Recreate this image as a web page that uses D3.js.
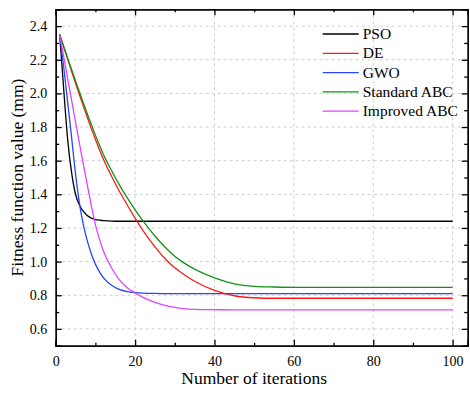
<!DOCTYPE html>
<html>
<head>
<meta charset="utf-8">
<script src="https://cdn.jsdelivr.net/npm/d3@7"></script>
<style>
  body { margin: 0; background: #fff; }
  svg { display: block; font-family: "Liberation Serif", "Times New Roman", serif; }
</style>
</head>
<body>
<svg id="chart" width="470" height="396"></svg>
<script>
const iterations = [1, 2, 3, 4, 5, 6, 7, 8, 9, 10, 11, 12, 14, 16, 18, 20, 22, 25, 28, 30, 32, 35, 40, 45, 50, 55, 60, 70, 80, 90, 100];

const pso = [2.35, 2.03, 1.73, 1.53, 1.40, 1.335, 1.298, 1.272, 1.258, 1.25, 1.246, 1.244, 1.241, 1.24, 1.24, 1.24, 1.24, 1.24, 1.24, 1.24, 1.24, 1.24, 1.24, 1.24, 1.24, 1.24, 1.24, 1.24, 1.24, 1.24, 1.24];
const de = [2.35, 2.277, 2.204, 2.132, 2.06, 1.99, 1.922, 1.855, 1.79, 1.727, 1.667, 1.61, 1.51, 1.42, 1.338, 1.258, 1.184, 1.088, 1.007, 0.963, 0.928, 0.883, 0.829, 0.797, 0.785, 0.782, 0.782, 0.782, 0.782, 0.782, 0.782];
const gwo = [2.35, 2.16, 1.95, 1.74, 1.52, 1.345, 1.215, 1.12, 1.045, 0.985, 0.94, 0.905, 0.861, 0.835, 0.822, 0.816, 0.813, 0.811, 0.81, 0.81, 0.81, 0.81, 0.81, 0.81, 0.81, 0.81, 0.81, 0.81, 0.81, 0.81, 0.81];
const stdAbc = [2.35, 2.28, 2.211, 2.142, 2.074, 2.007, 1.941, 1.876, 1.813, 1.752, 1.694, 1.638, 1.545, 1.458, 1.38, 1.308, 1.242, 1.152, 1.075, 1.032, 0.997, 0.955, 0.903, 0.868, 0.853, 0.849, 0.847, 0.847, 0.847, 0.847, 0.847];
const impAbc = [2.35, 2.22, 2.09, 1.96, 1.83, 1.70, 1.575, 1.45, 1.33, 1.22, 1.135, 1.065, 0.965, 0.893, 0.845, 0.813, 0.787, 0.758, 0.737, 0.728, 0.721, 0.716, 0.714, 0.713, 0.713, 0.713, 0.713, 0.713, 0.713, 0.713, 0.713];

const seriesNames = ["PSO", "DE", "GWO", "Standard ABC", "Improved ABC"];
const seriesColors = ["#000000", "#ff1a1a", "#2446ff", "#159115", "#de45ff"];
const seriesValues = [pso, de, gwo, stdAbc, impAbc];

const xTicks = [0, 20, 40, 60, 80, 100];
const yTicks = [0.6, 0.8, 1.0, 1.2, 1.4, 1.6, 1.8, 2.0, 2.2, 2.4];

const svg = d3.select("#chart");
const margin = { top: 9.3, right: 2.3, bottom: 50.3, left: 55.7 };
const width = 470 - margin.left - margin.right;
const height = 396 - margin.top - margin.bottom;
const serif = "'Liberation Serif', 'Times New Roman', serif";

const x = d3.scaleLinear().domain([0, 103.8]).range([0, width]);
const y = d3.scaleLinear().domain([0.5, 2.5]).range([height, 0]);

const g = svg.append("g").attr("transform", `translate(${margin.left},${margin.top})`);

// grid
g.append("g")
  .selectAll("line")
  .data(xTicks.slice(1))
  .join("line")
  .attr("x1", d => x(d)).attr("x2", d => x(d))
  .attr("y1", 0).attr("y2", height)
  .attr("stroke", "#cfcfcf").attr("stroke-width", 1)
  .attr("stroke-dasharray", "3,3");

g.append("g")
  .selectAll("line")
  .data(yTicks)
  .join("line")
  .attr("x1", 0).attr("x2", width)
  .attr("y1", d => y(d)).attr("y2", d => y(d))
  .attr("stroke", "#cfcfcf").attr("stroke-width", 1)
  .attr("stroke-dasharray", "3,3");

// curves
const line = d3.line()
  .x(d => x(d[0]))
  .y(d => y(d[1]))
  .curve(d3.curveMonotoneX);

seriesValues.forEach((vals, i) => {
  g.append("path")
    .datum(iterations.map((it, j) => [it, vals[j]]))
    .attr("fill", "none")
    .attr("stroke", seriesColors[i])
    .attr("stroke-width", 1.3)
    .attr("d", line);
});

// axes (ticks inside, on all four sides)
const xMinor = d3.range(10, 101, 20);
const yMinor = d3.range(0.7, 2.45, 0.2);

g.append("g").attr("transform", `translate(0,${height})`)
  .call(d3.axisBottom(x).tickValues(xTicks).tickSize(-6).tickPadding(10).tickFormat(d3.format("d")));
g.append("g")
  .call(d3.axisTop(x).tickValues(xTicks).tickSize(-6).tickFormat(""));
g.append("g")
  .call(d3.axisLeft(y).tickValues(yTicks).tickSize(-6).tickPadding(8.5).tickFormat(d3.format(".1f")));
g.append("g").attr("transform", `translate(${width},0)`)
  .call(d3.axisRight(y).tickValues(yTicks).tickSize(-6).tickFormat(""));

g.append("g").attr("transform", `translate(0,${height})`)
  .call(d3.axisBottom(x).tickValues(xMinor).tickSize(-3).tickFormat(""));
g.append("g")
  .call(d3.axisTop(x).tickValues(xMinor).tickSize(-3).tickFormat(""));
g.append("g")
  .call(d3.axisLeft(y).tickValues(yMinor).tickSize(-3.5).tickFormat(""));
g.append("g").attr("transform", `translate(${width},0)`)
  .call(d3.axisRight(y).tickValues(yMinor).tickSize(-3.5).tickFormat(""));

g.selectAll(".domain").attr("stroke", "#000").attr("stroke-width", 1.3);
g.selectAll(".tick line").attr("stroke", "#000").attr("stroke-width", 1.3);
g.selectAll("g").attr("font-family", serif).attr("font-size", 14);
g.selectAll(".tick text").attr("fill", "#000");

// axis titles
svg.append("text")
  .attr("x", margin.left + x(50))
  .attr("y", 384)
  .attr("text-anchor", "middle")
  .style("font-size", "17.5px")
  .text("Number of iterations");

svg.append("text")
  .attr("transform", `translate(22.5,${margin.top + height / 2}) rotate(-90)`)
  .attr("text-anchor", "middle")
  .style("font-size", "17.5px")
  .text("Fitness function value (mm)");

// legend
const legend = svg.append("g").attr("transform", "translate(322.7,34)");
seriesNames.forEach((name, i) => {
  const row = legend.append("g").attr("transform", `translate(0,${i * 19.3})`);
  row.append("line")
    .attr("x1", 0).attr("x2", 36)
    .attr("y1", 0).attr("y2", 0)
    .attr("stroke", seriesColors[i]).attr("stroke-width", 1.3);
  row.append("text")
    .attr("x", 40).attr("y", 5)
    .style("font-size", "15.5px")
    .text(name);
});
</script>
</body>
</html>
